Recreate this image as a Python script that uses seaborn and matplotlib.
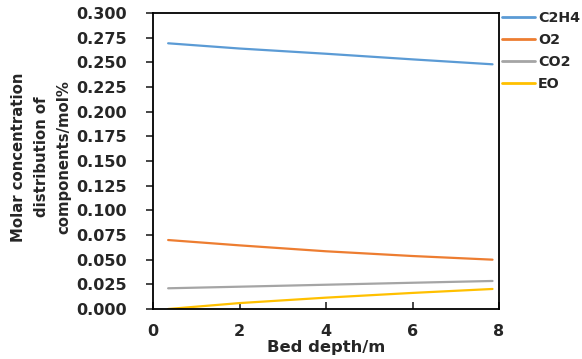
import matplotlib
matplotlib.use("Agg")
import matplotlib.pyplot as plt
import seaborn as sns
import pandas as pd

depth = [0.35, 2.0, 4.0, 6.0, 7.85]
c2h4 = [0.2693, 0.2640, 0.2587, 0.2530, 0.2480]
o2 = [0.0699, 0.0645, 0.0585, 0.0537, 0.0500]
co2 = [0.0210, 0.0226, 0.0246, 0.0266, 0.0284]
eo = [0.0000, 0.0060, 0.0115, 0.0163, 0.0203]
series_names = ["C2H4", "O2", "CO2", "EO"]
colors = ["#5B9BD5", "#ED7D31", "#A5A5A5", "#FFC000"]
x_ticks = [0, 2, 4, 6, 8]
y_ticks = [0.000, 0.025, 0.050, 0.075, 0.100, 0.125, 0.150, 0.175, 0.200,
           0.225, 0.250, 0.275, 0.300]

rows = []
for name, vals in zip(series_names, [c2h4, o2, co2, eo]):
    for d, v in zip(depth, vals):
        rows.append({"depth": d, "value": v, "series": name})
df = pd.DataFrame(rows)

sns.set_style("ticks")
plt.rcParams["font.family"] = ["DejaVu Sans"]
plt.rcParams["font.weight"] = "bold"

W, H = 582, 359
fig = plt.figure(figsize=(W / 100, H / 100), dpi=100)
ax = fig.add_axes([153 / W, 1 - 309 / H, (499 - 153) / W, (309 - 13) / H])

sns.lineplot(data=df, x="depth", y="value", hue="series", hue_order=series_names,
             palette=colors, linewidth=1.6, ax=ax, legend=True)

ax.set_xlim(0, 8)
ax.set_ylim(0, 0.3)
ax.set_xticks(x_ticks)
ax.set_yticks(y_ticks)
ax.set_xticklabels([str(t) for t in x_ticks], fontsize=11.5, fontweight="bold")
ax.set_yticklabels([f"{t:.3f}" for t in y_ticks], fontsize=11.5, fontweight="bold")
ax.tick_params(axis="x", direction="in", length=5, width=1.2, pad=11)
ax.tick_params(axis="y", direction="out", length=5, width=1.2, pad=13.5)
for s in ax.spines.values():
    s.set_linewidth(1.3)
    s.set_color("black")

ax.set_xlabel("")
ax.set_ylabel("")
fig.text(326 / W, 1 - 352 / H, "Bed depth/m", ha="center", va="baseline",
         fontsize=11.8, fontweight="bold")
fig.text(41 / W, 1 - 157 / H, "Molar concentration\ndistribution of\ncomponents/mol%",
         rotation=90, ha="center", va="center", multialignment="center",
         fontsize=10.7, fontweight="bold", linespacing=1.65)

leg = ax.legend(loc="upper left", bbox_to_anchor=(502 / W, 1 - 11 / H),
                bbox_transform=fig.transFigure, frameon=False,
                fontsize=10.3, handlelength=2.3, handletextpad=0.2,
                labelspacing=0.55, borderaxespad=0, borderpad=0)
for t in leg.get_texts():
    t.set_fontweight("bold")
for h in leg.get_lines():
    h.set_linewidth(2.0)

fig.savefig("out.png", dpi=100)
